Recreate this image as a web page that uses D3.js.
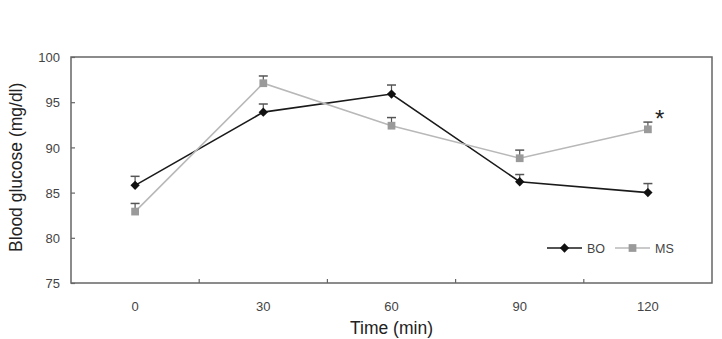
<!DOCTYPE html>
<html>
<head>
<meta charset="utf-8">
<script src="https://cdn.jsdelivr.net/npm/d3@7"></script>
<style>
  body { margin: 0; background: #fff; }
  svg { display: block; font-family: "Liberation Sans", Arial, sans-serif; }
</style>
</head>
<body>
<script>
// data
var times = ["0", "30", "60", "90", "120"];
var boMean = [85.8, 93.9, 95.9, 86.2, 85.0];
var boErr  = [1.0, 0.9, 1.0, 0.8, 1.0];
var msMean = [82.9, 97.1, 92.4, 88.8, 92.0];
var msErr  = [0.9, 0.8, 0.9, 0.9, 0.8];
var yTicks = [75, 80, 85, 90, 95, 100];

var width = 722, height = 339;
var margin = {top: 57, right: 10, bottom: 56, left: 71};

var svg = d3.select("body").append("svg")
    .attr("width", width)
    .attr("height", height);

var x = d3.scaleBand()
    .domain(times)
    .range([margin.left, width - margin.right]);

var y = d3.scaleLinear()
    .domain([75, 100])
    .range([height - margin.bottom, margin.top]);

var axisColor = "#666";
var tickFont = "13px";

// frame
svg.append("rect")
    .attr("x", margin.left)
    .attr("y", margin.top)
    .attr("width", width - margin.right - margin.left)
    .attr("height", height - margin.bottom - margin.top)
    .attr("fill", "none")
    .attr("stroke", axisColor)
    .attr("stroke-width", 1.5);

// y axis, ticks inward
var yAxis = svg.append("g")
    .attr("transform", "translate(" + margin.left + ",0)")
    .call(d3.axisLeft(y).tickValues(yTicks).tickSize(-4).tickPadding(11));
yAxis.select(".domain").remove();
yAxis.selectAll("line").attr("stroke", axisColor).attr("stroke-width", 1.2);
yAxis.selectAll("text")
    .attr("fill", "#444")
    .attr("dy", "0.36em")
    .style("font-size", tickFont);

// x axis: ticks between categories, pointing up
var bounds = times.slice(1).map(function(t) { return x(t); });
svg.append("g").selectAll("line")
    .data(bounds)
    .join("line")
      .attr("x1", function(d) { return d; })
      .attr("x2", function(d) { return d; })
      .attr("y1", y(75))
      .attr("y2", y(75) - 4)
      .attr("stroke", axisColor)
      .attr("stroke-width", 1.2);

svg.append("g").selectAll("text")
    .data(times)
    .join("text")
      .attr("x", function(d) { return x(d) + x.bandwidth() / 2; })
      .attr("y", y(75) + 28)
      .attr("text-anchor", "middle")
      .attr("fill", "#444")
      .style("font-size", tickFont)
      .text(function(d) { return d; });

// axis titles
svg.append("text")
    .attr("x", (margin.left + width - margin.right) / 2)
    .attr("y", 334)
    .attr("text-anchor", "middle")
    .attr("fill", "#222")
    .style("font-size", "17.5px")
    .text("Time (min)");

svg.append("text")
    .attr("transform", "translate(22," + (y(87.8)) + ") rotate(-90)")
    .attr("text-anchor", "middle")
    .attr("fill", "#222")
    .style("font-size", "17.5px")
    .text("Blood glucose (mg/dl)");

var cx = function(i) { return x(times[i]) + x.bandwidth() / 2; };

var series = [
  {name: "BO", mean: boMean, err: boErr, line: "#1a1a1a", mark: "#111", shape: d3.symbolDiamond2, size: 55},
  {name: "MS", mean: msMean, err: msErr, line: "#b8b8b8", mark: "#9a9a9a", shape: d3.symbolSquare, size: 60}
];

series.forEach(function(s) {
  var g = svg.append("g");
  // error bars (upper only)
  g.selectAll(".eb")
    .data(s.mean)
    .join("line")
      .attr("x1", function(d, i) { return cx(i); })
      .attr("x2", function(d, i) { return cx(i); })
      .attr("y1", function(d) { return y(d); })
      .attr("y2", function(d, i) { return y(d + s.err[i]); })
      .attr("stroke", "#555")
      .attr("stroke-width", 1.2);
  g.selectAll(".cap")
    .data(s.mean)
    .join("line")
      .attr("x1", function(d, i) { return cx(i) - 4.5; })
      .attr("x2", function(d, i) { return cx(i) + 4.5; })
      .attr("y1", function(d, i) { return y(d + s.err[i]); })
      .attr("y2", function(d, i) { return y(d + s.err[i]); })
      .attr("stroke", "#555")
      .attr("stroke-width", 1.5);
  var line = d3.line()
      .x(function(d, i) { return cx(i); })
      .y(function(d) { return y(d); });
  g.append("path")
      .datum(s.mean)
      .attr("d", line)
      .attr("fill", "none")
      .attr("stroke", s.line)
      .attr("stroke-width", 1.6);
  g.selectAll("path.m")
    .data(s.mean)
    .join("path")
      .attr("class", "m")
      .attr("transform", function(d, i) { return "translate(" + cx(i) + "," + y(d) + ")"; })
      .attr("d", d3.symbol().type(s.shape).size(s.size))
      .attr("fill", s.mark);
});

// significance mark
svg.append("text")
    .attr("x", cx(4) + 7)
    .attr("y", y(msMean[4] + msErr[4]) + 5)
    .attr("fill", "#222")
    .style("font-size", "24px")
    .text("*");

// legend
var legend = svg.append("g").attr("transform", "translate(547,248)");
series.forEach(function(s, i) {
  var lg = legend.append("g").attr("transform", "translate(" + (i * 68) + ",0)");
  lg.append("line")
      .attr("x1", 0).attr("x2", 35)
      .attr("stroke", s.line)
      .attr("stroke-width", 1.6);
  lg.append("path")
      .attr("transform", "translate(17.5,0)")
      .attr("d", d3.symbol().type(s.shape).size(s.size))
      .attr("fill", s.mark);
  lg.append("text")
      .attr("x", 40)
      .attr("y", 4.5)
      .attr("fill", "#444")
      .style("font-size", "12.5px")
      .text(s.name);
});
</script>
</body>
</html>
